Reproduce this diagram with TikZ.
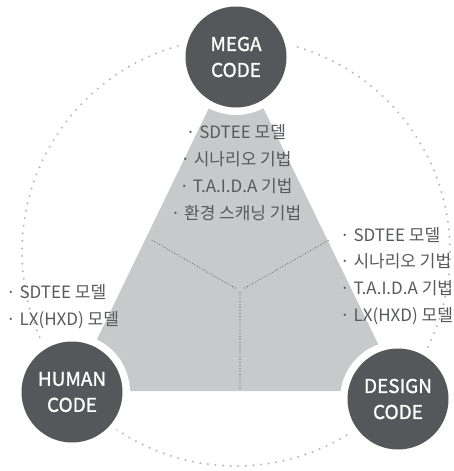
\documentclass[tikz,border=0pt]{standalone}
\usepackage{fontspec}
\setmainfont{Noto Sans CJK KR}
\definecolor{hubc}{HTML}{56575A}
\definecolor{wedge}{HTML}{C8C9CB}
\definecolor{txt}{HTML}{58595B}
\definecolor{dotc}{HTML}{B8B9BB}
\definecolor{innerdot}{HTML}{505153}
\tikzset{
  hub/.style={circle, fill=hubc, minimum size=101pt, inner sep=0pt, text=white,
    align=center, font=\fontsize{19}{26}\selectfont\addfontfeatures{FakeBold=1.2}},
  ring/.style={fill=white},
  items/.style={text=txt, inner sep=0pt, font=\fontsize{17}{26.8}\selectfont},
  bigdots/.style={draw=dotc, line width=2.3pt, line cap=round, dash pattern=on 0pt off 7.6pt},
  innerdots/.style={draw=innerdot, line width=1.1pt, line cap=round, dash pattern=on 0pt off 2.9pt},
}
\begin{document}
\begin{tikzpicture}[x=1pt, y=-1pt]
\useasboundingbox (0,0) rectangle (453,471);
% outer dotted circle
\coordinate (oc) at (236,252);
\draw[bigdots] (oc) circle (214pt);
% gray wedge
\coordinate (ta) at (236,52);
\coordinate (tl) at (72,391);
\coordinate (tr) at (401,391);
\fill[wedge] (ta) -- (tl) -- (tr) -- cycle;
% inner dotted lines
\coordinate (cen) at (240,290);
\coordinate (ml) at (150,239);
\coordinate (mr) at (329,240);
\coordinate (mb) at (240,391);
\draw[innerdots] (235,288) -- (ml);
\draw[innerdots] (245,288) -- (mr);
\draw[innerdots] (240,293) -- (mb);
% white rings
\coordinate (cm) at (236,57);
\coordinate (ch) at (72,392);
\coordinate (cd) at (398,399);
\fill[ring] (cm) circle (58pt);
\fill[ring] (ch) circle (58pt);
\fill[ring] (cd) circle (58pt);
% hubs
\node[hub] (mega) at (cm) {MEGA\\CODE};
\node[hub] (human) at (ch) {HUMAN\\CODE};
\node[hub] (design) at (cd) {DESIGN\\CODE};
% item lists
\node[items, align=center] (toplist) at (236,172.5)
  {· SDTEE 모델\\· 시나리오 기법\\· T.A.I.D.A 기법\\· 환경 스캐닝 기법};
\node[items, align=left, anchor=west] (rightlist) at (340,276)
  {· SDTEE 모델\\· 시나리오 기법\\· T.A.I.D.A 기법\\· LX(HXD) 모델};
\node[items, align=left, anchor=west] (leftlist) at (6,306.5)
  {· SDTEE 모델\\· LX(HXD) 모델};
\end{tikzpicture}
\end{document}
